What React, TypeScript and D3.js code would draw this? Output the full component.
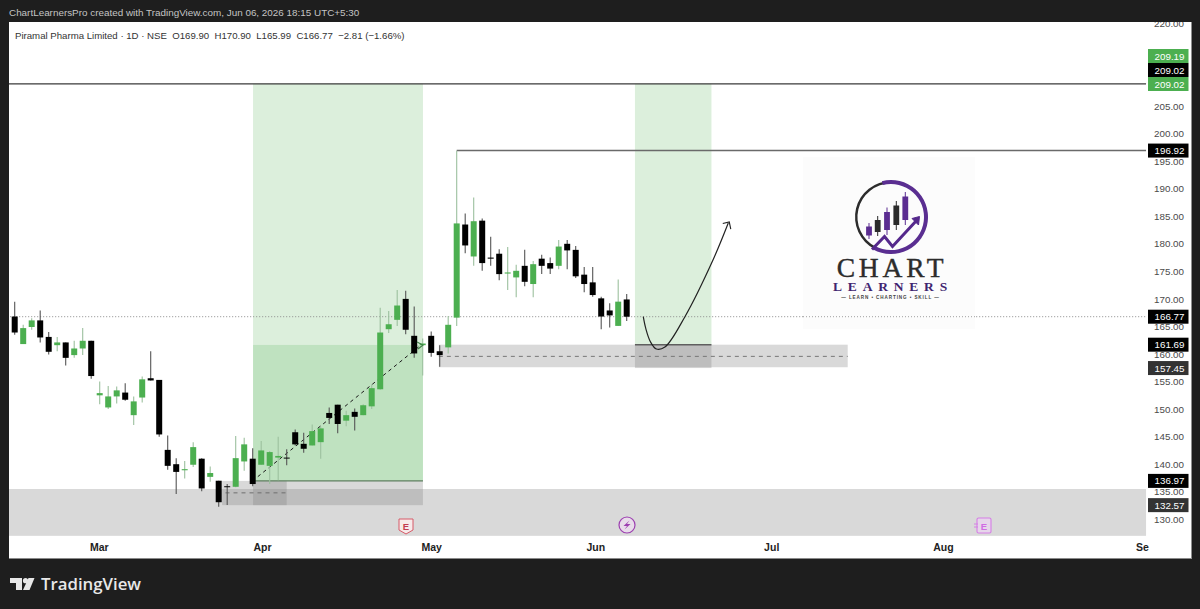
import { useEffect, useRef } from 'react';
import * as d3 from 'd3';

// daily candles
const opens = [166.8,161.8,164.9,166.1,163.1,161.6,162.1,159.8,161.0,162.4,152.5,150.3,152.3,153.0,148.9,152.1,155.6,155.3,142.6,140.0,138.9,139.9,141.0,137.7,137.0,136.0,135.9,140.5,141.0,139.9,139.7,141.2,141.2,145.8,143.7,143.4,144.0,149.3,150.8,147.9,149.5,148.9,150.5,153.6,164.5,166.2,170.0,163.3,161.6,163.3,160.5,161.2,166.6,183.5,177.7,184.2,177.5,178.2,174.6,173.9,176.0,172.7,177.3,176.5,176.0,180.0,178.9,174.4,173.0,170.1,167.9,165.1,169.9];
const highs = [169.5,165.3,166.5,167.9,164.0,163.1,162.1,162.4,164.7,162.4,155.0,154.2,154.1,154.7,152.3,155.9,160.5,155.3,145.2,141.1,140.6,144.0,141.1,139.6,137.0,136.4,145.1,144.8,142.9,144.2,142.4,145.0,142.7,146.3,145.7,147.2,146.8,150.3,150.8,149.7,150.1,150.9,154.5,168.4,167.8,171.6,171.5,168.6,162.8,164.1,161.6,166.9,196.9,185.5,188.4,184.6,181.3,179.0,179.4,176.2,178.9,176.9,178.0,177.5,180.7,180.7,179.6,175.8,175.8,170.4,169.2,173.5,170.9];
const lows = [163.5,161.8,164.4,162.1,159.9,160.5,157.9,159.3,159.8,155.5,150.9,150.0,151.0,151.5,147.1,151.2,155.2,145.0,139.0,134.6,137.4,139.5,135.1,136.8,132.3,132.6,135.8,138.8,136.0,139.9,136.4,137.1,139.8,143.4,142.1,143.4,141.0,147.3,145.6,146.9,146.1,148.9,150.0,153.5,163.8,165.1,163.6,159.3,156.1,159.5,157.7,160.1,165.1,178.3,176.0,175.1,176.0,173.4,171.6,170.3,172.3,170.3,174.5,174.5,175.4,175.4,173.8,171.2,170.4,164.5,164.8,165.1,165.99];
const closes = [163.9,164.7,166.1,163.0,160.4,162.1,159.3,161.0,162.4,156.0,152.9,152.3,153.4,151.7,151.4,155.4,155.2,145.4,139.7,138.6,139.1,143.1,135.6,138.4,133.1,135.9,141.1,143.6,136.4,142.5,142.2,141.5,141.1,143.6,142.8,146.0,146.5,148.4,147.3,148.9,148.6,150.7,153.8,163.9,165.4,168.8,164.4,160.1,161.9,160.2,159.8,165.3,183.7,179.7,184.1,176.5,177.3,174.5,174.8,175.1,173.1,176.3,176.0,175.5,179.5,178.8,174.1,172.7,170.7,166.8,167.0,169.5,166.77];

// 210 sits behind the stacked tags in the reference, so it is left out
const priceTicks = [130, 135, 140, 145, 150, 155, 160, 165, 170, 175, 180, 185, 190, 195, 200, 205, 215, 220];
const monthBars = [9.9, 29.1, 49, 68.3, 89, 109.2, 132.6];
const monthNames = ['Mar', 'Apr', 'May', 'Jun', 'Jul', 'Aug', 'Se'];

// drawn zones: [from bar, to bar, top price, bottom price]
const demandZone = [-3, 133.1, 135.5, 127];
const riskBoxA = [24.4, 32, 136.97, 132.57];
const riskBoxB = [28.04, 48.03, 136.97, 132.57];
const entryZone = [49.9, 98, 161.69, 157.6];
const entryBox = [72.97, 81.97, 161.69, 157.45];
const targetTop = [28.04, 48.03, 209.02, 161.69];
const targetBottom = [28.04, 48.03, 161.69, 136.97];
const targetNext = [72.97, 81.97, 209.02, 161.69];

const trendBars = [28.6, 47.8];
const trendPrices = [137.74, 161.63];
const pathBars = [73.95, 74.25, 74.8, 75.5, 76.5, 78.85, 82.15, 83.95];
const pathPrices = [166.77, 164.6, 162.2, 160.9, 161.27, 166.77, 177.06, 183.77];

const lastPrice = 166.77;
const topLevel = 209.02;
const highLevel = 196.92;
const highBar = 52;
const endBar = 133.1;

const priceTags = [
  { y: 56, text: '209.19', color: '#4caf50' },
  { y: 70, text: '209.02', color: '#000000' },
  { y: 84, text: '209.02', color: '#4caf50' },
];
const levelTags = [
  { price: 196.92, color: '#000000' },
  { price: 166.77, color: '#000000' },
  { price: 161.69, color: '#000000' },
  { price: 157.45, color: '#333333' },
  { price: 136.97, color: '#000000' },
  { price: 132.57, color: '#333333' },
];

const uiFont = '"Liberation Sans", Arial, sans-serif';

function App() {
  const chartRef = useRef<SVGSVGElement | null>(null);

  useEffect(() => {
    const svg = d3.select(chartRef.current);
    svg.selectAll('*').remove();

    const x = d3.scaleLinear().domain([0, 100]).range([14.7, 864.7]);
    const y = d3.scaleLinear().domain([130, 220]).range([519.3, 23.4]);

    svg.append('rect').attr('width', 1200).attr('height', 609).attr('fill', '#1e1e1e');
    svg.append('rect').attr('x', 9).attr('y', 22).attr('width', 1182.5).attr('height', 537).attr('fill', '#ffffff');
    svg.append('rect').attr('x', 9).attr('y', 558).attr('width', 1182.5).attr('height', 1).attr('fill', '#8a8a8a');

    svg.append('clipPath').attr('id', 'pane')
      .append('rect').attr('x', 9).attr('y', 22).attr('width', 1138).attr('height', 514);
    const pane = svg.append('g').attr('clip-path', 'url(#pane)');

    function zone(z: number[], fill: string, opacity = 1) {
      pane.append('rect')
        .attr('x', x(z[0]))
        .attr('y', y(z[2]))
        .attr('width', x(z[1]) - x(z[0]))
        .attr('height', y(z[3]) - y(z[2]))
        .attr('fill', fill)
        .attr('opacity', opacity);
    }

    zone(demandZone, '#d9d9d9');
    zone(targetTop, '#dcefdc');
    zone(targetBottom, '#bfe2c0');
    zone(targetNext, '#dcefdc');
    zone(riskBoxA, '#808080', 0.3);
    zone(riskBoxB, '#808080', 0.3);
    zone(entryZone, '#808080', 0.3);
    zone(entryBox, '#808080', 0.3);

    function level(price: number, from: number, to: number, color: string, width: number, dash?: string) {
      pane.append('line')
        .attr('x1', x(from)).attr('x2', x(to))
        .attr('y1', y(price)).attr('y2', y(price))
        .attr('stroke', color)
        .attr('stroke-width', width)
        .attr('stroke-dasharray', dash ?? null);
    }

    level(topLevel, -3, endBar, '#3a3a3a', 1.2);
    level(highLevel, highBar, endBar, '#6a6a6a', 1.6);
    level(lastPrice, -3, endBar, '#8c8c8c', 1, '1 2');
    level(136.97, 28.04, 48.03, '#5f7f60', 1.2);
    level(161.69, 72.97, 81.97, '#5f5f5f', 1.4);
    level(134.8, 24.8, 32, '#6e6e6e', 1, '4 4');
    level(159.57, 49.9, 98, '#777777', 1, '4 4');

    // dashed run up into the old high
    pane.append('line')
      .attr('x1', x(trendBars[0])).attr('y1', y(trendPrices[0]))
      .attr('x2', x(trendBars[1])).attr('y2', y(trendPrices[1]))
      .attr('stroke', '#1a1a1a').attr('stroke-width', 1).attr('stroke-dasharray', '3.5 3.5');

    const candles = pane.selectAll('g.candle').data(opens).enter().append('g').attr('class', 'candle');
    candles.append('line')
      .attr('x1', (_d, i) => x(i)).attr('x2', (_d, i) => x(i))
      .attr('y1', (_d, i) => y(highs[i])).attr('y2', (_d, i) => y(lows[i]))
      .attr('stroke', (_d, i) => (closes[i] >= opens[i] ? '#9cc09e' : '#555555'))
      .attr('stroke-width', 1.1);
    candles.append('rect')
      .attr('x', (_d, i) => x(i) - 3)
      .attr('width', 6)
      .attr('y', (_d, i) => y(Math.max(opens[i], closes[i])))
      .attr('height', (_d, i) => Math.max(1, Math.abs(y(opens[i]) - y(closes[i]))))
      .attr('fill', (_d, i) => (closes[i] >= opens[i] ? '#4caf50' : '#000000'));

    // small arrow head on the dashed line
    const tipX = x(trendBars[1]) + 1;
    const tipY = y(trendPrices[1]);
    pane.append('path')
      .attr('d', `M${tipX - 5},${tipY - 3}L${tipX + 1},${tipY}L${tipX - 4},${tipY + 4}`)
      .attr('fill', 'none').attr('stroke', '#3f7f46').attr('stroke-width', 1.1);

    // projected path
    const pathLine = d3.line<number>()
      .x((d) => x(d))
      .y((_d, i) => y(pathPrices[i]))
      .curve(d3.curveCatmullRom);
    pane.append('path')
      .attr('d', pathLine(pathBars))
      .attr('fill', 'none').attr('stroke', '#222222').attr('stroke-width', 1.2);
    const endX = x(pathBars[pathBars.length - 1]);
    const endY = y(pathPrices[pathPrices.length - 1]);
    pane.append('path')
      .attr('d', `M${endX - 5.5},${endY + 0.5}L${endX + 1},${endY - 1}L${endX + 2.5},${endY + 6}`)
      .attr('fill', 'none').attr('stroke', '#222222').attr('stroke-width', 1.1);

    drawLogo(svg);
    drawEvents(svg);

    // price axis
    const priceAxis = svg.append('g')
      .attr('transform', 'translate(1147,0)')
      .call(d3.axisRight(y).tickValues(priceTicks).tickSize(0).tickFormat((d) => d3.format('.2f')(d as number)));
    priceAxis.select('.domain').remove();
    priceAxis.selectAll('text')
      .attr('x', 37).attr('text-anchor', 'end')
      .attr('font-family', uiFont).attr('font-size', 9.8).attr('fill', '#4a4a4a');

    // time axis
    const timeAxis = svg.append('g')
      .attr('transform', 'translate(0,536)')
      .call(d3.axisBottom(x).tickValues(monthBars).tickSize(0).tickFormat((_d, i) => monthNames[i]));
    timeAxis.select('.domain').remove();
    timeAxis.selectAll('text')
      .attr('y', 8).attr('font-family', uiFont).attr('font-size', 10.5).attr('font-weight', 600).attr('fill', '#222222');

    function tag(cy: number, text: string, color: string) {
      svg.append('rect').attr('x', 1148).attr('y', cy - 7).attr('width', 40.5).attr('height', 14).attr('fill', color);
      svg.append('text')
        .attr('x', 1184.5).attr('y', cy + 3.6).attr('text-anchor', 'end')
        .attr('font-family', uiFont).attr('font-size', 9.8).attr('fill', '#ffffff')
        .text(text);
    }
    levelTags.forEach((t) => tag(y(t.price), d3.format('.2f')(t.price), t.color));
    priceTags.forEach((t) => tag(t.y, t.text, t.color));

    // header strip and titles sit on top so the 220 tick gets cut
    svg.append('rect').attr('width', 1200).attr('height', 22).attr('fill', '#1e1e1e');
    svg.append('text')
      .attr('x', 9).attr('y', 16)
      .attr('font-family', uiFont).attr('font-size', 9.9).attr('fill', '#c4c4c4')
      .text('ChartLearnersPro created with TradingView.com, Jun 06, 2026 18:15 UTC+5:30');
    svg.append('text')
      .attr('x', 15).attr('y', 38.5)
      .attr('font-family', uiFont).attr('font-size', 9.65).attr('fill', '#333333')
      .attr('xml:space', 'preserve')
      .text('Piramal Pharma Limited · 1D · NSE  O169.90  H170.90  L165.99  C166.77  −2.81 (−1.66%)');

    // footer brand
    const brand = svg.append('g').attr('fill', '#e8e8e8');
    brand.append('path').attr('d', 'M10,578H22V590H16V583H10Z');
    brand.append('circle').attr('cx', 25.5).attr('cy', 580.7).attr('r', 2.6);
    brand.append('path').attr('d', 'M28.5,578H34.5L29.5,590H23Z');
    svg.append('text')
      .attr('x', 41).attr('y', 590)
      .attr('font-family', '"Open Sans", sans-serif').attr('font-size', 16.8).attr('font-weight', 600)
      .attr('fill', '#e8e8e8')
      .text('TradingView');
  }, []);

  return (
    <svg
      ref={chartRef}
      width="1200"
      height="609"
      style={{ position: 'absolute', left: 0, top: 0, display: 'block' }}
    ></svg>
  );
}

function drawLogo(svg: any) {
  const logo = svg.append('g');
  logo.append('rect').attr('x', 803).attr('y', 157).attr('width', 172).attr('height', 172).attr('fill', '#fcfcfc');
  logo.append('line').attr('x1', 803).attr('x2', 975).attr('y1', 316.7).attr('y2', 316.7)
    .attr('stroke', '#a0a0a0').attr('stroke-dasharray', '1 2');

  // ring, thin dark on the left and fat purple on the right
  const ring = d3.arc();
  logo.append('path')
    .attr('transform', 'translate(891,217)')
    .attr('d', ring({ innerRadius: 33.5, outerRadius: 36, startAngle: Math.PI * 1.15, endAngle: Math.PI * 2.0 }))
    .attr('fill', '#2c2c2c');
  logo.append('path')
    .attr('transform', 'translate(891,217)')
    .attr('d', ring({ innerRadius: 33, outerRadius: 37, startAngle: -0.25, endAngle: Math.PI * 1.16 }))
    .attr('fill', '#5a2e91');

  const bars = [
    { cx: 869, top: 226.5, bottom: 235.5, wickTop: 223, wickBottom: 239, fill: '#5b2d91' },
    { cx: 877.7, top: 220, bottom: 232, wickTop: 216, wickBottom: 236, fill: '#2b2b2b' },
    { cx: 887, top: 212, bottom: 230, wickTop: 207.5, wickBottom: 235, fill: '#5b2d91' },
    { cx: 896.3, top: 205.5, bottom: 225, wickTop: 201, wickBottom: 230, fill: '#2b2b2b' },
    { cx: 905.3, top: 196.5, bottom: 220, wickTop: 192, wickBottom: 225, fill: '#5b2d91' },
  ];
  bars.forEach((b) => {
    logo.append('line').attr('x1', b.cx).attr('x2', b.cx).attr('y1', b.wickTop).attr('y2', b.wickBottom)
      .attr('stroke', b.fill).attr('stroke-width', 1);
    logo.append('rect').attr('x', b.cx - 2.9).attr('y', b.top).attr('width', 5.8).attr('height', b.bottom - b.top)
      .attr('fill', b.fill);
  });
  logo.append('path')
    .attr('d', 'M872,249.5L884.5,236.5L892.5,246.5L917,220')
    .attr('fill', 'none').attr('stroke', '#55298c').attr('stroke-width', 3);
  logo.append('path').attr('d', 'M912,218.5L919.5,216.5L918.5,225Z').attr('fill', '#55298c').attr('stroke', '#55298c');

  logo.append('text')
    .attr('x', 892).attr('y', 277).attr('text-anchor', 'middle')
    .attr('font-family', '"Liberation Serif", serif').attr('font-size', 27.5).attr('letter-spacing', 3.8)
    .attr('fill', '#2c2c2c').attr('stroke', '#2c2c2c').attr('stroke-width', 0.4).text('CHART');
  logo.append('text')
    .attr('x', 893).attr('y', 291).attr('text-anchor', 'middle')
    .attr('font-family', '"Liberation Serif", serif').attr('font-size', 13.5).attr('font-weight', 700).attr('letter-spacing', 5.8)
    .attr('fill', '#3f2570').text('LEARNERS');
  logo.append('text')
    .attr('x', 890.5).attr('y', 299).attr('text-anchor', 'middle')
    .attr('font-family', uiFont).attr('font-size', 4.6).attr('font-weight', 700).attr('letter-spacing', 0.9)
    .attr('fill', '#444444').text('— LEARN • CHARTING • SKILL —');
}

function drawEvents(svg: any) {
  // earnings marker, red shield
  svg.append('path')
    .attr('d', 'M399,519H413V530L406,534L399,530Z')
    .attr('fill', '#f7eaea').attr('stroke', '#d65a68').attr('stroke-width', 1);
  svg.append('text')
    .attr('x', 406).attr('y', 529.5).attr('text-anchor', 'middle')
    .attr('font-family', uiFont).attr('font-size', 9.5).attr('font-weight', 700).attr('fill', '#c43c50')
    .text('E');

  // dividend style marker, purple circle with a bolt
  svg.append('circle')
    .attr('cx', 627).attr('cy', 525).attr('r', 8)
    .attr('fill', '#e8dcea').attr('stroke', '#9c3fb0').attr('stroke-width', 1.2);
  svg.append('path')
    .attr('d', 'M629.5,520.5L623.5,526H627L624.5,529.5L630.5,524H627Z')
    .attr('fill', '#9c3fb0');

  // next earnings, pink outlined
  svg.append('rect')
    .attr('x', 977).attr('y', 518).attr('width', 14).attr('height', 15).attr('rx', 1.5)
    .attr('fill', '#e6d6ea').attr('stroke', '#d57ee6').attr('stroke-width', 1.1);
  svg.append('path')
    .attr('d', 'M974,524H978M974,527H978')
    .attr('stroke', '#d57ee6').attr('stroke-width', 1);
  svg.append('text')
    .attr('x', 984).attr('y', 529.5).attr('text-anchor', 'middle')
    .attr('font-family', uiFont).attr('font-size', 9.5).attr('font-weight', 700).attr('fill', '#d06be3')
    .text('E');
}

export default App;
